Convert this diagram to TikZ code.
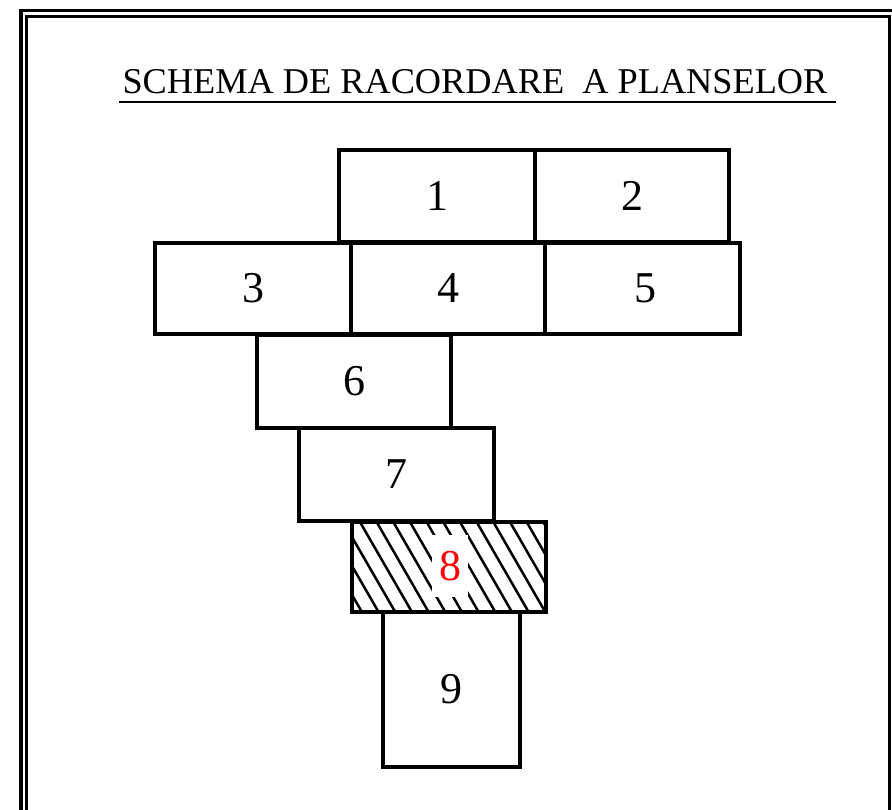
\documentclass[tikz,border=0pt]{standalone}
\usepackage{fontspec}
\setmainfont{Liberation Serif}
\usetikzlibrary{calc}
\begin{document}
\begin{tikzpicture}[x=1bp,y=-1bp,
  sheet/.style={draw=black,line width=3.6bp,inner sep=0pt,outer sep=0pt,
    font=\fontsize{44bp}{50bp}\selectfont},
  hatchline/.style={line width=2.5bp,black},
  framestroke/.style={line width=3.4bp,black},
  framestrokeinner/.style={line width=3bp,black}]
\useasboundingbox (0,0) rectangle (892,810);
\clip (0,0) rectangle (892,810);
% double frame
\draw[framestroke] (20.8,830) -- (20.8,10.5) -- (900,10.5);
\draw[framestrokeinner] (26.6,830) -- (26.6,16.6) -- (889.4,16.6) -- (889.4,830);
% title
\node[anchor=base,inner sep=0pt,font=\fontsize{36.3bp}{42bp}\selectfont] (title) at (475,93)
  {SCHEMA DE RACORDARE\ \ A PLANSELOR};
\coordinate (ulA) at ($(title.base west)+(-3,9)$);
\coordinate (ulB) at ($(title.base east)+(8,9)$);
\draw[line width=2.8bp] (ulA) -- (ulB);
% sheets
\node[sheet,minimum width=196bp,minimum height=92bp] (b1) at (437,196) {1};
\node[sheet,minimum width=194bp,minimum height=92bp] (b2) at (632,196) {2};
\node[sheet,minimum width=196bp,minimum height=91bp] (b3) at (253,288.5) {3};
\node[sheet,minimum width=194bp,minimum height=91bp] (b4) at (448,288.5) {4};
\node[sheet,minimum width=195bp,minimum height=91bp] (b5) at (642.5,288.5) {\hspace*{6bp}5};
\node[sheet,minimum width=194bp,minimum height=93bp] (b6) at (354,381.5) {6};
\node[sheet,minimum width=195bp,minimum height=93bp] (b7) at (396.5,474.5) {7};
\node[sheet,draw=none,minimum width=194bp,minimum height=90bp] (b8) at (449,567) {};
\begin{scope}
  \clip (b8.north west) rectangle (b8.south east);
  \foreach \k in {-5,...,13}
    \draw[hatchline] ({360+16.67*\k-5.8},512) -- ++(63.5,110);
\end{scope}
\node[fill=white,inner sep=0pt,minimum width=36bp,minimum height=62bp,text=red,
  font=\fontsize{44bp}{50bp}\selectfont] (l8) at (450,566) {8};
\draw[line width=3.6bp] (b8.north west) rectangle (b8.south east);
\node[sheet,minimum width=137bp,minimum height=155bp] (b9) at (451.5,689.5) {9};
\end{tikzpicture}
\end{document}
